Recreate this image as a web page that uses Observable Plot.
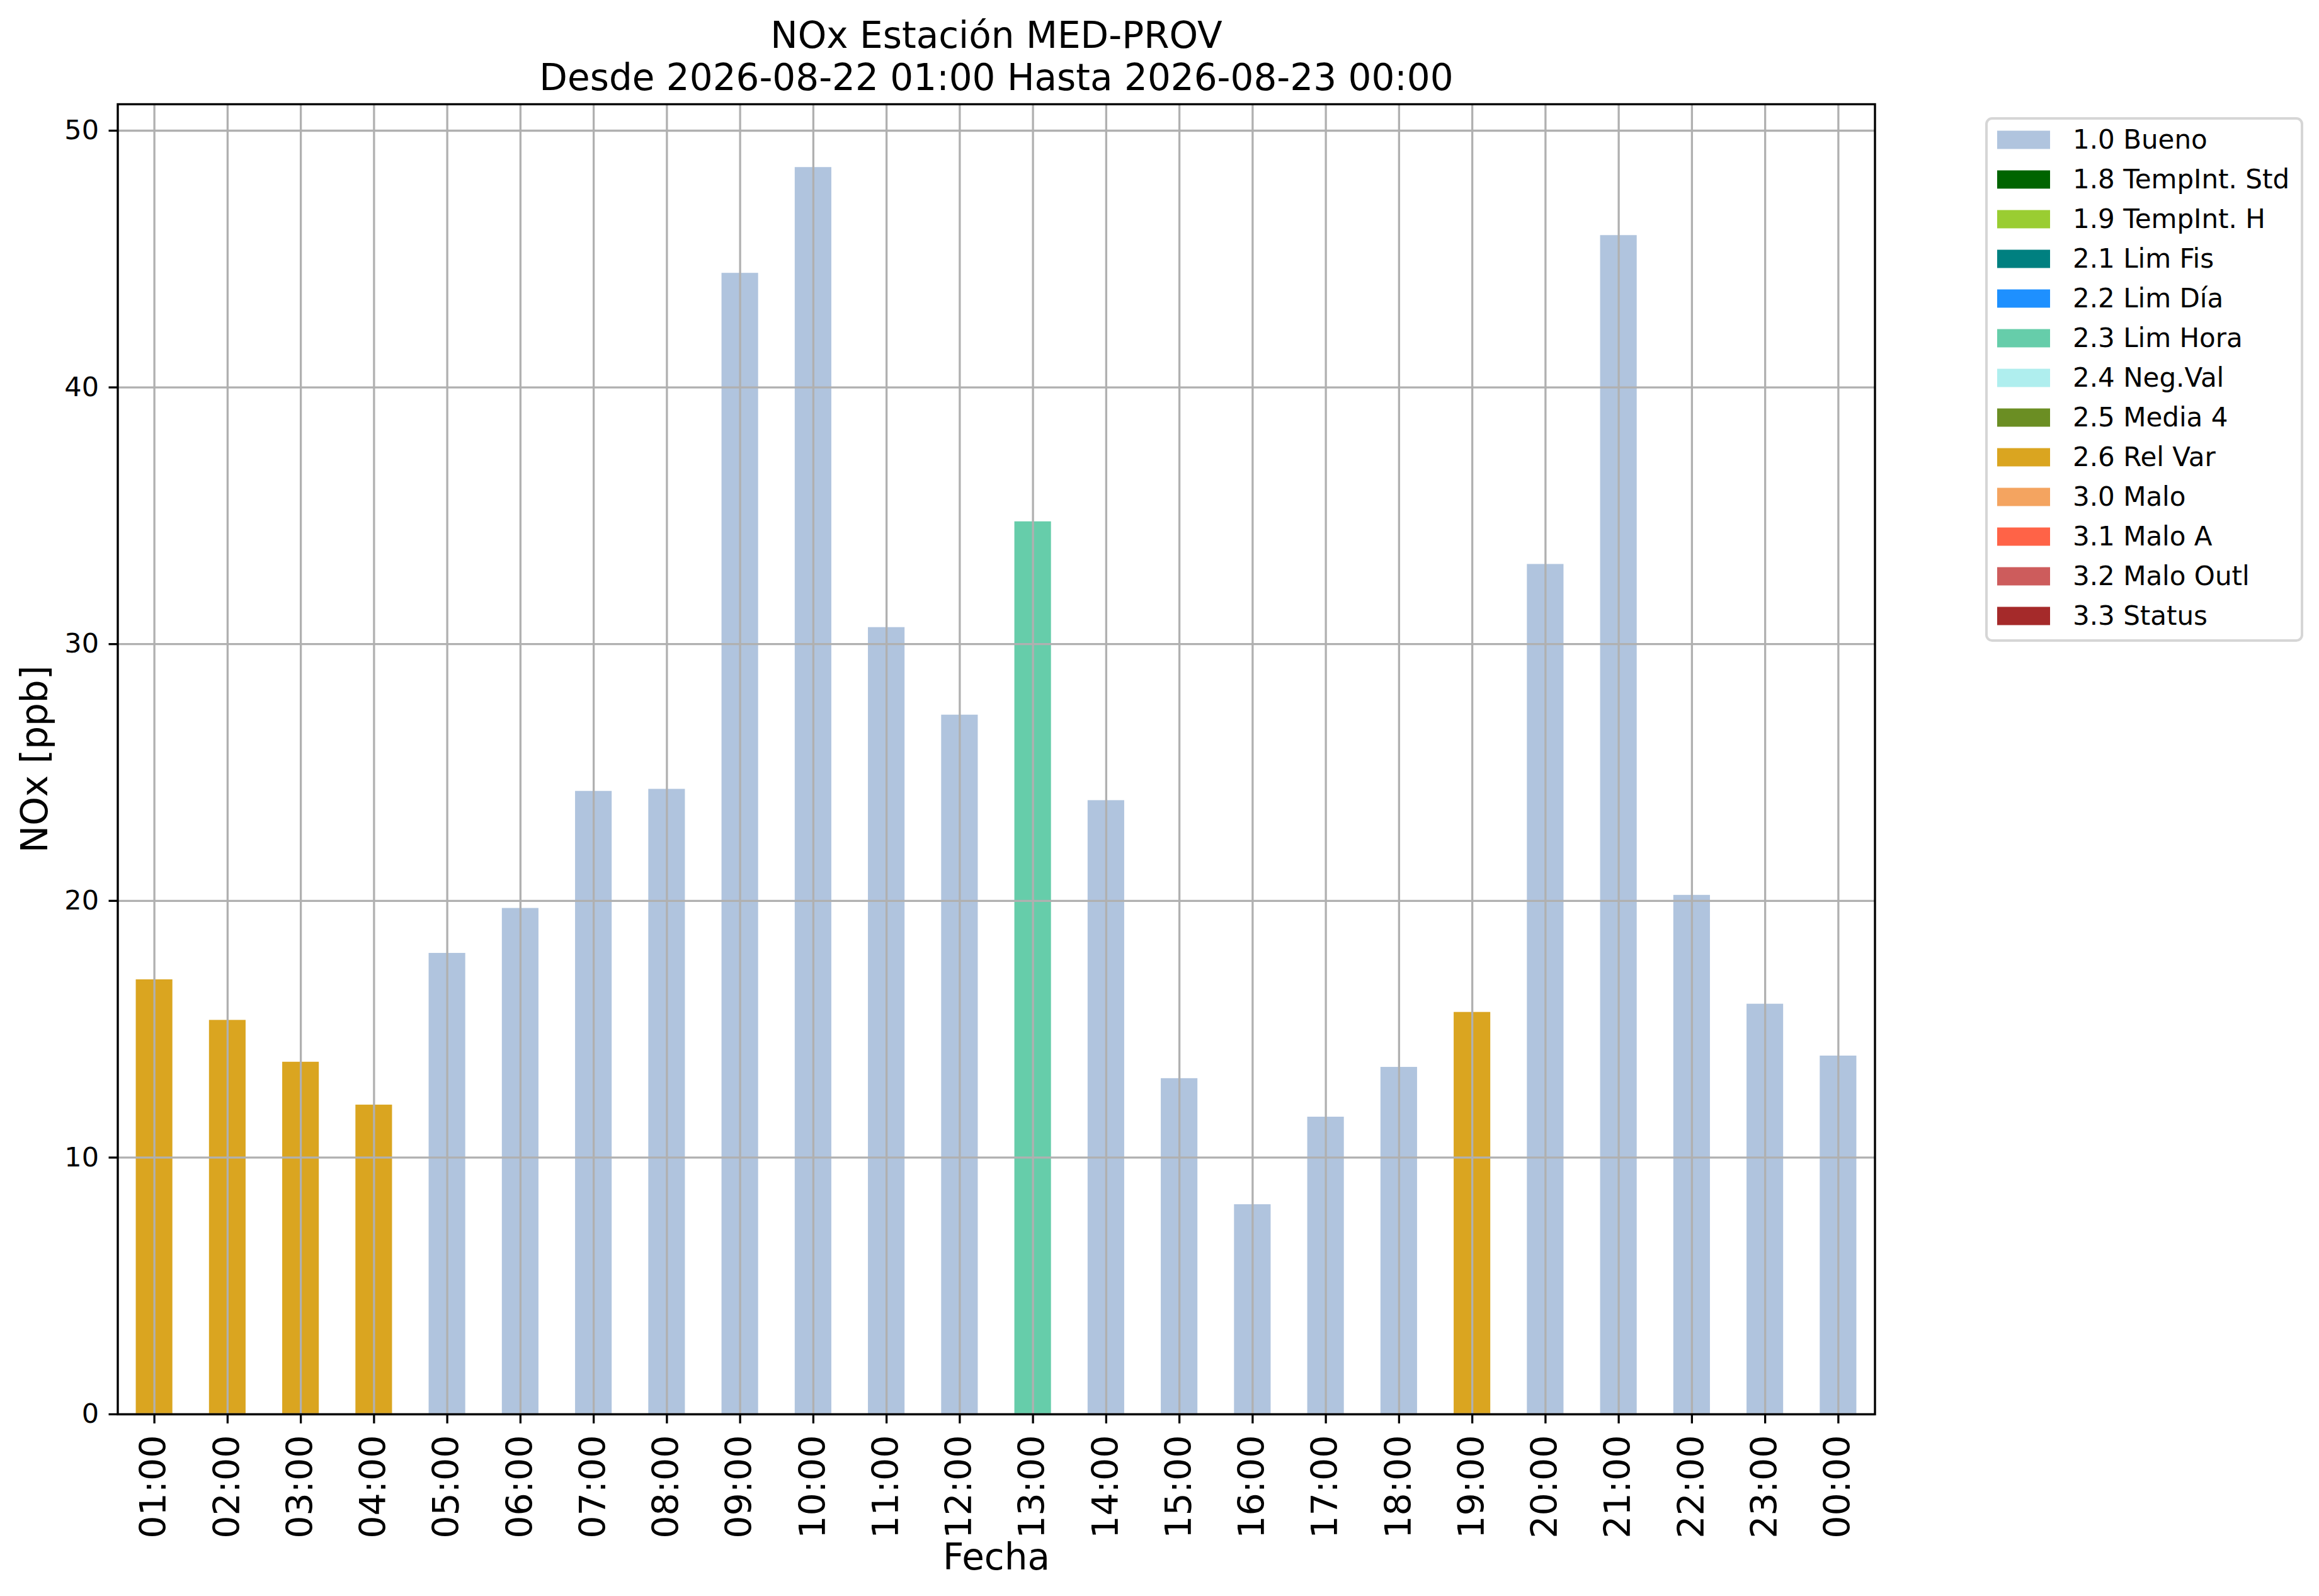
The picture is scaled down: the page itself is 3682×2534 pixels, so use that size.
<!DOCTYPE html>
<html>
<head>
<meta charset="utf-8">
<script src="https://cdn.jsdelivr.net/npm/d3@7"></script>
<script src="https://cdn.jsdelivr.net/npm/@observablehq/plot@0.6"></script>
<style>
  html, body { margin: 0; padding: 0; background: white; }
  #wrap { position: relative; width: 3682px; height: 2534px; }
  #wrap > svg { position: absolute; left: 0; top: 0; }
</style>
</head>
<body>
<div id="wrap"></div>
<script>
// ---- data ----
const hours = ["01:00","02:00","03:00","04:00","05:00","06:00","07:00","08:00","09:00","10:00","11:00","12:00",
               "13:00","14:00","15:00","16:00","17:00","18:00","19:00","20:00","21:00","22:00","23:00","00:00"];
const values = [16.93, 15.35, 13.72, 12.05, 17.96, 19.71, 24.27, 24.35, 44.45, 48.57, 30.65, 27.24,
                34.77, 23.91, 13.08, 8.17, 11.58, 13.52, 15.66, 33.11, 45.92, 20.22, 15.98, 13.96];
const flags = ["2.6 Rel Var","2.6 Rel Var","2.6 Rel Var","2.6 Rel Var","1.0 Bueno","1.0 Bueno","1.0 Bueno","1.0 Bueno",
               "1.0 Bueno","1.0 Bueno","1.0 Bueno","1.0 Bueno","2.3 Lim Hora","1.0 Bueno","1.0 Bueno","1.0 Bueno",
               "1.0 Bueno","1.0 Bueno","2.6 Rel Var","1.0 Bueno","1.0 Bueno","1.0 Bueno","1.0 Bueno","1.0 Bueno"];
const flagNames = ["1.0 Bueno","1.8 TempInt. Std","1.9 TempInt. H","2.1 Lim Fis","2.2 Lim Día","2.3 Lim Hora",
                   "2.4 Neg.Val","2.5 Media 4","2.6 Rel Var","3.0 Malo","3.1 Malo A","3.2 Malo Outl","3.3 Status"];
const flagColors = ["#B0C4DE","#006400","#9ACD32","#008080","#1E90FF","#66CDAA",
                    "#AFEEEE","#6B8E23","#DAA520","#F4A460","#FF6347","#CD5C5C","#A52A2A"];
const yTicks = [0, 10, 20, 30, 40, 50];
const titleLines = ["NOx Estación MED-PROV", "Desde 2026-08-22 01:00 Hasta 2026-08-23 00:00"];
const xLabel = "Fecha";
const yLabel = "NOx [ppb]";

const data = hours.map((h, i) => ({hour: h, value: values[i], flag: flags[i]}));

const W = 3682, H = 2534;
const mL = 186.5, mR = 705.5, mT = 165, mB = H - 2245;
const font = "DejaVu Sans, sans-serif";

const chart = Plot.plot({
  width: W, height: H,
  marginLeft: mL, marginRight: mR, marginTop: mT, marginBottom: mB,
  style: {fontFamily: font, background: "white", color: "black", overflow: "visible"},
  x: {domain: hours, paddingInner: 0.5, paddingOuter: 0.25, align: 0.5, round: false, label: null},
  y: {domain: [0, 51.03], label: null},
  color: {domain: flagNames, range: flagColors},
  marks: [
    Plot.barY(data, {x: "hour", y: "value", fill: "flag"}),
    Plot.gridX(hours, {stroke: "#b0b0b0", strokeOpacity: 1, strokeWidth: 3.3}),
    Plot.gridY(yTicks, {stroke: "#b0b0b0", strokeOpacity: 1, strokeWidth: 3.3}),
    Plot.frame({stroke: "black", strokeWidth: 3.4}),
    Plot.axisX({tickSize: 15, tickPadding: 18, tickRotate: -90, fontSize: 57, strokeWidth: 3.3, label: null}),
    Plot.axisY(yTicks, {tickSize: 14, tickPadding: 16, fontSize: 43, strokeWidth: 3.3, label: null}),
    Plot.text([titleLines[0]], {frameAnchor: "top", dy: 75 - mT, lineAnchor: "bottom", fontSize: 58, fill: "black"}),
    Plot.text([titleLines[1]], {frameAnchor: "top", dy: 142 - mT, lineAnchor: "bottom", fontSize: 58, fill: "black"}),
    Plot.text([xLabel], {frameAnchor: "bottom", dy: 2491 - 2245, lineAnchor: "bottom", fontSize: 58, fill: "black"}),
    Plot.text([yLabel], {frameAnchor: "left", dx: 74 - mL, rotate: -90, textAnchor: "middle", lineAnchor: "bottom", fontSize: 58, fill: "black"})
  ]
});

const wrap = document.getElementById("wrap");
wrap.appendChild(chart);

// ---- legend (drawn with d3) ----
const lg = d3.select(wrap).append("svg")
  .attr("width", W).attr("height", H)
  .style("pointer-events", "none")
  .attr("font-family", font);
const box = {x: 3154, y: 188, w: 3655 - 3154, h: 1017 - 188};
lg.append("rect")
  .attr("x", box.x).attr("y", box.y).attr("width", box.w).attr("height", box.h)
  .attr("rx", 9).attr("ry", 9)
  .attr("fill", "white").attr("fill-opacity", 0.8)
  .attr("stroke", "#d6d6d6").attr("stroke-width", 4);
const rowY = i => 222 + i * 63.0;
const rows = lg.selectAll("g.row").data(flagNames).join("g").attr("class", "row");
rows.append("rect")
  .attr("x", 3171).attr("y", (d, i) => rowY(i) - 14.5)
  .attr("width", 84).attr("height", 29)
  .attr("fill", (d, i) => flagColors[i]);
rows.append("text")
  .attr("x", 3291).attr("y", (d, i) => rowY(i) + 14)
  .attr("font-size", 42).attr("fill", "black")
  .text(d => d);
</script>
</body>
</html>
